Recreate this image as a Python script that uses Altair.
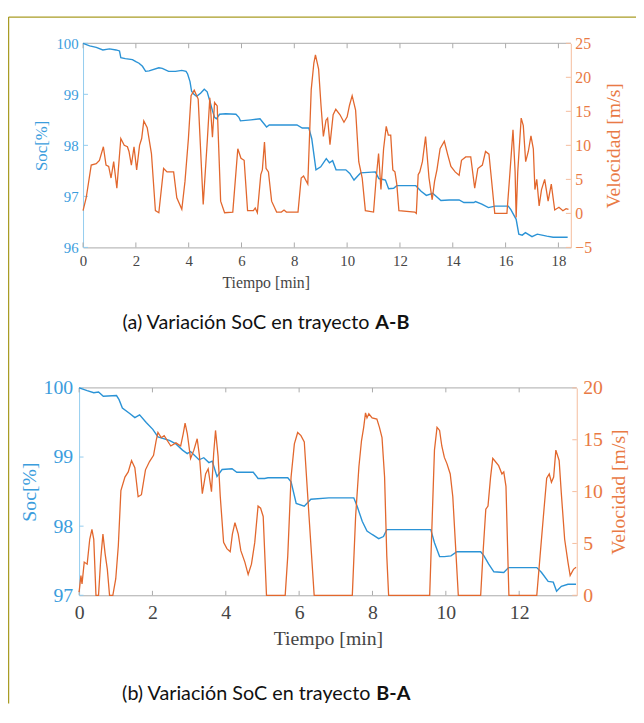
import altair as alt
import pandas as pd

# ---------------- Panel (a): trayecto A-B ----------------
a_soc_t = [0, 0.25, 0.5, 0.75, 1.0, 1.25, 1.38, 1.43, 1.6, 1.87, 2.0, 2.12, 2.25, 2.37, 2.5, 2.87, 3.0, 3.24,
           3.5, 3.74, 3.9, 3.96, 4.05, 4.11, 4.2, 4.3, 4.45, 4.59, 4.7, 4.8, 4.9, 4.98, 5.05, 5.17, 5.4, 5.79,
           5.9, 5.96, 6.36, 6.7, 6.95, 7.05, 8.1, 8.3, 8.55, 8.66, 8.82, 9.0, 9.21, 9.33, 9.45, 9.58, 9.95,
           10.1, 10.26, 10.4, 10.51, 11.07, 11.2, 11.45, 11.57, 11.76, 11.88, 12.6, 12.8, 13.0, 13.24, 13.55,
           13.86, 14.24, 14.42, 14.8, 14.86, 15.1, 15.35, 15.6, 16.1, 16.2, 16.4, 16.5, 16.63, 16.75, 17.0,
           17.2, 17.56, 17.8, 18.35]
a_soc_v = [100.0, 99.95, 99.92, 99.87, 99.89, 99.87, 99.85, 99.72, 99.70, 99.68, 99.64, 99.61, 99.55, 99.45,
           99.46, 99.52, 99.51, 99.45, 99.45, 99.47, 99.45, 99.40, 99.25, 99.06, 99.0, 98.96, 99.02, 99.10,
           99.05, 98.87, 98.68, 98.55, 98.52, 98.61, 98.62, 98.61, 98.55, 98.48, 98.50, 98.52, 98.36, 98.40,
           98.40, 98.34, 98.34, 98.13, 97.52, 97.58, 97.74, 97.66, 97.70, 97.52, 97.52, 97.45, 97.32, 97.40,
           97.46, 97.48, 97.35, 97.32, 97.15, 97.16, 97.21, 97.21, 97.10, 97.02, 97.06, 96.92, 96.93, 96.93,
           96.88, 96.88, 96.90, 96.85, 96.78, 96.81, 96.81, 96.74, 96.55, 96.26, 96.24, 96.29, 96.21, 96.26,
           96.22, 96.20, 96.20]
a_vel_t = [0, 0.12, 0.31, 0.5, 0.62, 0.77, 0.87, 0.97, 1.06, 1.16, 1.28, 1.43, 1.56, 1.68, 1.74, 1.83, 1.93,
           2.03, 2.14, 2.22, 2.3, 2.43, 2.59, 2.74, 2.87, 3.05, 3.18, 3.43, 3.55, 3.74, 3.86, 3.99, 4.09, 4.21,
           4.36, 4.55, 4.71, 4.8, 4.9, 4.98, 5.08, 5.21, 5.36, 5.67, 5.86, 5.98, 6.1, 6.23, 6.45, 6.52, 6.6,
           6.73, 6.79, 6.87, 6.93, 7.02, 7.14, 7.33, 7.51, 7.61, 7.7, 8.14, 8.26, 8.35, 8.51, 8.64, 8.74, 8.8,
           8.92, 9.01, 9.1, 9.2, 9.26, 9.35, 9.47, 9.57, 9.73, 9.88, 10.0, 10.09, 10.19, 10.32, 10.44, 10.57,
           10.69, 11.0, 11.1, 11.19, 11.28, 11.38, 11.48, 11.56, 11.65, 11.73, 11.81, 11.88, 11.96, 12.56,
           12.62, 12.69, 12.75, 12.85, 12.97, 13.1, 13.22, 13.31, 13.4, 13.52, 13.68, 13.81, 13.93, 14.09,
           14.24, 14.33, 14.49, 14.68, 14.83, 14.95, 15.12, 15.24, 15.37, 15.46, 15.59, 16.05, 16.15, 16.28,
           16.36, 16.4, 16.46, 16.59, 16.67, 16.76, 16.86, 16.96, 17.05, 17.11, 17.18, 17.27, 17.36, 17.48,
           17.61, 17.73, 17.86, 18.02, 18.17, 18.29, 18.38]
a_vel_v = [0.4, 2.3, 7.1, 7.3, 7.8, 9.8, 7.1, 6.9, 5.2, 7.6, 3.7, 11.0, 10.0, 9.8, 9.1, 7.1, 9.8,
           6.4, 10.0, 11.0, 13.6, 12.6, 8.8, 0.4, 0.1, 6.6, 6.1, 6.1, 2.3, 0.6, 4.7, 11.0, 17.3, 18.1,
           16.8, 1.3, 11.0, 17.0, 11.2, 16.3, 15.8, 1.8, 0.1, 0.2, 9.5, 8.1, 7.8, 0.4, 0.4, 0.8, 0.1,
           5.7, 6.4, 10.5, 6.6, 6.1, 1.8, 0.2, 0.2, 0.5, 0.2, 0.2, 5.2, 5.5, 4.3, 18.2, 22.1, 23.3,
           21.2, 15.9, 11.3, 13.7, 14.0, 10.1, 14.5, 15.3, 14.5, 13.4, 14.2, 15.9, 17.3, 15.2, 7.6, 5.2,
           0.4, 0.2, 5.2, 8.8, 3.5, 9.5, 12.8, 11.5, 11.5, 6.4, 6.1, 4.3, 0.4, 0.2,
           0.0, 5.7, 6.1, 7.6, 11.3, 5.2, 2.0, 4.7, 6.4, 9.5, 10.6, 8.6, 6.9, 6.1,
           5.6, 7.8, 8.3, 8.3, 3.7, 6.6, 7.1, 9.1, 8.7, 5.2, 0.0, 0.0, 5.2, 12.3,
           6.1, -0.6, 6.1, 14.0, 12.9, 7.6, 9.1, 11.4, 9.5, 3.5, 5.0, 1.1, 3.5, 5.0,
           1.8, 4.3, 0.5, 0.9, 0.4, 0.7, 0.6]

# ---------------- Panel (b): trayecto B-A ----------------
b_soc_t = [0, 0.22, 0.4, 0.53, 0.66, 1.02, 1.09, 1.18, 1.38, 1.52, 1.65, 1.83, 2.01, 2.15, 2.46, 2.64, 2.82,
           2.95, 3.04, 3.27, 3.40, 3.54, 3.63, 3.76, 3.9, 4.17, 4.3, 4.75, 4.88, 5.06, 5.15, 5.69, 5.78, 5.92,
           6.14, 6.32, 6.81, 7.49, 7.58, 7.72, 7.85, 7.99, 8.17, 8.3, 8.39, 9.59, 9.69, 9.83, 9.96, 10.14,
           10.3, 10.95, 11.04, 11.17, 11.31, 11.58, 11.71, 12.48, 12.61, 12.79, 12.93, 13.02, 13.15, 13.33,
           13.55]
b_soc_v = [100.0, 99.96, 99.93, 99.94, 99.88, 99.89, 99.83, 99.71, 99.63, 99.57, 99.61, 99.50, 99.40, 99.29,
           99.24, 99.19, 99.10, 99.05, 99.08, 98.96, 98.99, 98.92, 98.94, 98.72, 98.82, 98.83, 98.78, 98.78,
           98.69, 98.69, 98.70, 98.70, 98.64, 98.33, 98.29, 98.39, 98.41, 98.41, 98.29, 98.07, 97.93, 97.88,
           97.82, 97.85, 97.95, 97.95, 97.76, 97.56, 97.56, 97.57, 97.63, 97.63, 97.57, 97.45, 97.34, 97.33,
           97.40, 97.40, 97.33, 97.20, 97.19, 97.06, 97.13, 97.16, 97.16]
b_vel_t = [0, 0.05, 0.08, 0.14, 0.22, 0.29, 0.35, 0.4, 0.46, 0.53, 0.59, 0.65, 0.71, 0.77, 0.83, 0.92, 1.0,
           1.07, 1.14, 1.25, 1.34, 1.43, 1.52, 1.61, 1.7, 1.81, 1.92, 2.03, 2.1, 2.15, 2.24, 2.32, 2.5, 2.64,
           2.77, 2.84, 2.89, 2.95, 3.04, 3.13, 3.22, 3.28, 3.36, 3.45, 3.52, 3.61, 3.67, 3.72, 3.79, 3.85,
           3.94, 4.03, 4.12, 4.18, 4.25, 4.34, 4.41, 4.52, 4.61, 4.7, 4.79, 4.88, 4.95, 5.02, 5.11, 5.62,
           5.69, 5.78, 5.87, 5.96, 6.05, 6.14, 6.27, 6.41, 7.45, 7.54, 7.63, 7.7, 7.76, 7.81, 7.85, 7.9,
           7.99, 8.12, 8.19, 8.26, 8.33, 8.39, 8.44, 9.56, 9.63, 9.69, 9.76, 9.83, 9.89, 9.96, 10.03, 10.12,
           10.19, 10.28, 10.34, 10.95, 11.02, 11.09, 11.15, 11.22, 11.28, 11.35, 11.44, 11.53, 11.58, 11.64,
           11.7, 11.72, 12.48, 12.57, 12.66, 12.75, 12.82, 12.88, 12.94, 13.0, 13.09, 13.15, 13.24, 13.33,
           13.39, 13.48, 13.55]
b_vel_v = [0.3, 1.9, 1.1, 3.2, 3.0, 5.4, 6.35, 5.4, 0, 0, 3.5, 5.9, 4.0, 2.5, 0, 0, 1.6,
           4.8, 10.1, 11.4, 11.9, 13.0, 12.3, 9.5, 9.7, 12.1, 12.9, 13.5, 14.9, 15.7, 15.2, 15.4, 14.4, 14.7,
           14.4, 15.6, 16.6, 15.6, 13.2, 14.0, 15.1, 13.5, 9.8, 11.7, 12.2, 10.0, 13.7, 15.9, 13.4, 9.5,
           5.1, 4.5, 4.2, 5.9, 7.0, 5.9, 4.3, 3.2, 2.0, 3.0, 5.1, 8.6, 8.4, 7.6, 0, 0,
           3.8, 11.4, 14.6, 15.7, 15.4, 14.8, 7.6, 0, 0, 7.6, 12.4, 14.9, 16.2, 17.6, 17.1, 17.5,
           17.1, 17.0, 16.2, 15.2, 11.4, 3.8, 0, 0, 7.6, 14.0, 16.2, 15.9, 14.4, 13.3, 12.7, 11.7,
           9.5, 3.8, 0, 0, 4.4, 8.3, 8.6, 11.4, 13.2, 12.9, 12.5, 11.7, 11.9, 10.5,
           2.5, 0, 0, 3.8, 7.6, 11.3, 11.7, 10.9, 11.4, 14.0, 13.0, 9.8, 5.4, 3.2,
           1.9, 2.5, 2.7]

# ---------------- ticks / text ----------------
a_x_ticks = [0, 2, 4, 6, 8, 10, 12, 14, 16, 18]
a_soc_ticks = [96, 97, 98, 99, 100]
a_vel_ticks = [-5, 0, 5, 10, 15, 20, 25]
b_x_ticks = [0, 2, 4, 6, 8, 10, 12]
b_soc_ticks = [97, 98, 99, 100]
b_vel_ticks = [0, 5, 10, 15, 20]
x_title = "Tiempo [min]"
soc_title = "Soc[%]"
vel_title = "Velocidad [m/s]"
caption_a = ["(a) Variación SoC en trayecto", "A-B"]
caption_b = ["(b) Variación SoC en trayecto", "B-A"]

# ---------------- style ----------------
BLUE = "#2b93d6"
ORANGE = "#e2672d"
BLUE_AX = "#92ccef"
ORANGE_AX = "#f5bc9c"
BLUE_LAB = "#3b9ddd"
ORANGE_LAB = "#e97a44"
GRAY = "#aaaaaa"
TXT = "#454545"
SERIF = "Liberation Serif"
SANS = "Lato"
BORDER = "#a99c25"
W, H = 636, 700

one = pd.DataFrame({"k": [0]})


def panel(g):
    """Return a flat list of leaf layers for one panel."""
    xs = alt.Scale(domain=[0, g["xmax"]], range=[g["x0"], g["x1"]], nice=False, zero=False)
    ss = alt.Scale(domain=g["soc_dom"], range=[g["yb"], g["yt"]], nice=False, zero=False)
    vs = alt.Scale(domain=g["vel_dom"], range=[g["yb"], g["yt"]], nice=False, zero=False)
    ymid = (g["yt"] + g["yb"]) / 2
    tl = g["tl"]

    x_axis = alt.Axis(orient="bottom", offset=g["yb"] - H, values=g["xticks"], ticks=False, tickSize=0,
                      domainColor=GRAY, domainWidth=1, grid=False, labelFont=SERIF, labelFontSize=g["fxl"],
                      labelColor=TXT, labelPadding=g["xpad"], labelFlush=False, labelOverlap=False,
                      title=x_title, titleFont=SERIF, titleFontSize=g["fxt"], titleFontWeight="normal",
                      titleColor=TXT, titleX=g["xtx"], titleY=g["xty"], titleBaseline="middle",
                      titleAlign="center")
    soc_axis = alt.Axis(orient="left", offset=-g["x0"], values=g["socticks"], ticks=False, tickSize=0,
                        domainColor=BLUE_AX, domainWidth=1, grid=False, labelFont=SERIF,
                        labelFontSize=g["fsl"], labelColor=BLUE_LAB, labelPadding=g["lpad"],
                        labelFlush=False, labelOverlap=False,
                        title=soc_title, titleFont=SERIF, titleFontSize=g["fst"], titleFontWeight="normal",
                        titleColor=BLUE_LAB, titleAngle=270, titleX=g["stx"] - g["x0"], titleY=ymid,
                        titleBaseline="middle", titleAlign="center")
    vel_axis = alt.Axis(orient="right", offset=g["x1"] - W, values=g["velticks"], ticks=False, tickSize=0,
                        domainColor=ORANGE_AX, domainWidth=1, grid=False, labelFont=SERIF,
                        labelFontSize=g["fvl"], labelColor=ORANGE_LAB, labelPadding=g["rpad"],
                        labelFlush=False, labelOverlap=False,
                        title=vel_title, titleFont=SERIF, titleFontSize=g["fvt"], titleFontWeight="normal",
                        titleColor=ORANGE_LAB, titleAngle=270, titleX=g["vtx"] - g["x1"], titleY=ymid,
                        titleBaseline="middle", titleAlign="center")

    soc_df = pd.DataFrame({"t": g["soc_t"], "soc": g["soc_v"]})
    vel_df = pd.DataFrame({"t": g["vel_t"], "vel": g["vel_v"]})
    xt_df = pd.DataFrame({"t": g["xticks"]})
    st_df = pd.DataFrame({"soc": g["socticks"]})
    vt_df = pd.DataFrame({"vel": g["velticks"]})

    top_frame = alt.Chart(one).mark_rule(color=GRAY, strokeWidth=1).encode(
        x=alt.value(g["x0"]), x2=alt.value(g["x1"]), y=alt.value(g["yt"]))
    top_ticks = alt.Chart(xt_df).mark_rule(color=GRAY, strokeWidth=1).encode(
        x=alt.X("t:Q", scale=xs, axis=None), y=alt.value(g["yt"]), y2=alt.value(g["yt"] + tl))
    bot_ticks = alt.Chart(xt_df).mark_rule(color=GRAY, strokeWidth=1).encode(
        x=alt.X("t:Q", scale=xs, axis=None), y=alt.value(g["yb"] - tl), y2=alt.value(g["yb"]))
    soc_ticks = alt.Chart(st_df).mark_rule(color=BLUE_AX, strokeWidth=1).encode(
        y=alt.Y("soc:Q", scale=ss, axis=None), x=alt.value(g["x0"]), x2=alt.value(g["x0"] + tl))
    vel_ticks = alt.Chart(vt_df).mark_rule(color=ORANGE_AX, strokeWidth=1).encode(
        y=alt.Y("vel:Q", scale=vs, axis=None), x=alt.value(g["x1"] - tl), x2=alt.value(g["x1"]))
    soc_line = alt.Chart(soc_df).mark_line(color=BLUE, strokeWidth=1.4).encode(
        x=alt.X("t:Q", scale=xs, axis=x_axis),
        y=alt.Y("soc:Q", scale=ss, axis=soc_axis))
    vel_line = alt.Chart(vel_df).mark_line(color=ORANGE, strokeWidth=1.3).encode(
        x=alt.X("t:Q", scale=xs, axis=None),
        y=alt.Y("vel:Q", scale=vs, axis=vel_axis))
    return [top_frame, top_ticks, bot_ticks, soc_ticks, vel_ticks, soc_line, vel_line]


pa = panel(dict(soc_t=a_soc_t, soc_v=a_soc_v, vel_t=a_vel_t, vel_v=a_vel_v,
                x0=76, x1=570, yt=31.3, yb=238, xmax=18.47, soc_dom=[96, 100], vel_dom=[-5, 25],
                xticks=a_x_ticks, socticks=a_soc_ticks, velticks=a_vel_ticks,
                fxl=15, fxt=16, fsl=15, fst=17, fvl=16, fvt=20,
                xpad=6, lpad=5, rpad=4, xtx=261, xty=36, stx=34, vtx=613, tl=5))
pb = panel(dict(soc_t=b_soc_t, soc_v=b_soc_v, vel_t=b_vel_t, vel_v=b_vel_v,
                x0=72, x1=576, yt=380.3, yb=590.3, xmax=13.57, soc_dom=[97, 100], vel_dom=[0, 20],
                xticks=b_x_ticks, socticks=b_soc_ticks, velticks=b_vel_ticks,
                fxl=20, fxt=20, fsl=20, fst=20, fvl=20, fvt=20,
                xpad=7.5, lpad=6.5, rpad=6, xtx=324, xty=43.4, stx=22, vtx=618, tl=4.5))


def caption(parts, xn, xb, y):
    df = pd.DataFrame({"n": [parts[0]], "b": [parts[1]]})
    n = alt.Chart(df).mark_text(font=SANS, fontSize=20, color="#111111", align="right",
                                baseline="middle").encode(text="n:N", x=alt.value(xn), y=alt.value(y))
    b = alt.Chart(df).mark_text(font=SANS, fontSize=20, color="#111111", align="left", fontWeight="bold",
                                baseline="middle").encode(text="b:N", x=alt.value(xb), y=alt.value(y))
    return [n, b]


border_top = alt.Chart(one).mark_rule(color=BORDER, strokeWidth=1.3).encode(
    x=alt.value(0.6), x2=alt.value(W), y=alt.value(4.7))
border_left = alt.Chart(one).mark_rule(color=BORDER, strokeWidth=1.3).encode(
    x=alt.value(0.6), y=alt.value(4.7), y2=alt.value(H))

layers = ([border_top, border_left] + pa + pb
          + caption(caption_a, 366, 372, 315) + caption(caption_b, 367, 373, 690))

chart = alt.layer(*layers).resolve_scale(x="independent", y="independent").properties(
    width=W, height=H, autosize=alt.AutoSizeParams(type="none"), padding=0,
    background="white",
).configure_view(stroke=None)

chart.save("out.html", embed_options={"renderer": "svg", "actions": False})
